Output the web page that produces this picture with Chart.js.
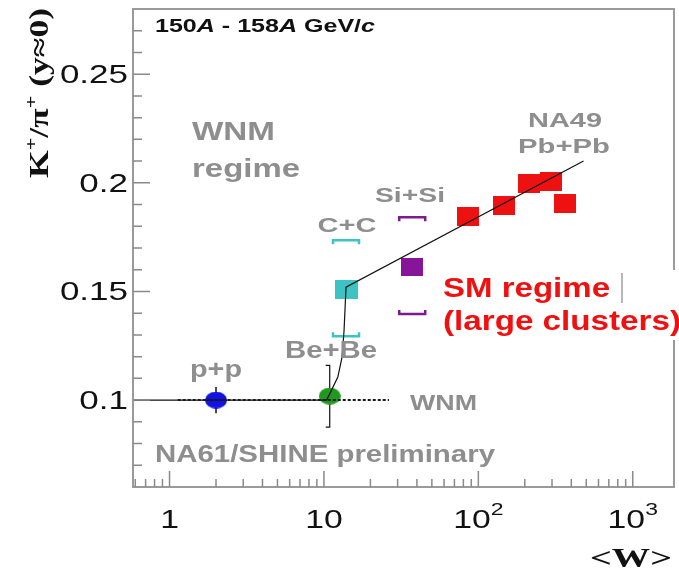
<!DOCTYPE html>
<html>
<head>
<meta charset="utf-8">
<script src="https://cdn.jsdelivr.net/npm/chart.js@4.4.0/dist/chart.umd.min.js"></script>
<style>
  html, body { margin: 0; padding: 0; background: #fff; }
  canvas { display: block; }
</style>
</head>
<body>
<canvas id="kpiChart" width="679" height="571"></canvas>
<script>
// dados (K+/pi+ vs <W>)
const ppW = [2.0];
const ppRatio = [0.100];
const ppErr = [0.006];

const beW = [10.9];
const beRatio = [0.1018];
const beErrLo = [0.0876];
const beErrHi = [0.116];

const ccW = [13.9];
const ccRatio = [0.151];
const ccSysLo = [0.1294];
const ccSysHi = [0.1736];

const siW = [37.3];
const siRatio = [0.1612];
const siSysLo = [0.1396];
const siSysHi = [0.1842];

const pbW = [86, 147, 214, 294, 362];
const pbRatio = [0.1846, 0.1897, 0.1998, 0.2007, 0.1906];

// linha do modelo (WNM -> SM)
const fitW = [0.58, 10.4, 10.96, 12.3, 13.1, 13.5, 13.9, 480];
const fitRatio = [0.1, 0.1, 0.1032, 0.1106, 0.1198, 0.132, 0.152, 0.21];

// linha pontilhada WNM
const wnmW = [1.13, 26.4];
const wnmRatio = [0.1, 0.1];

// eixos
const xTickValues = [1, 10, 100, 1000];
const xTickLabels = ['1', '10', '10^2', '10^3'];
const yTickValues = [0.1, 0.15, 0.2, 0.25];
const yTickLabels = ['0.1', '0.15', '0.2', '0.25'];
const yMinorTicks = [0.07, 0.08, 0.09, 0.11, 0.12, 0.13, 0.14, 0.16, 0.17, 0.18, 0.19, 0.21, 0.22, 0.23, 0.24, 0.26, 0.27];

const GRAY = '#8e8e8e';
const SANS = '"Liberation Sans", Arial, sans-serif';
const SERIF = '"Liberation Serif", "Times New Roman", serif';

function font(size, bold, italic, family) {
  return (italic ? 'italic ' : '') + (bold ? 'bold ' : '') + size + 'px ' + (family || SANS);
}

function pts(xs, ys) {
  return xs.map(function(x, i) { return { x: x, y: ys[i] }; });
}

// marcadores achatados (a figura original esta esticada na horizontal)
function markerCanvas(w, h, color, shape) {
  var c = document.createElement('canvas');
  c.width = w; c.height = h;
  var g = c.getContext('2d');
  g.fillStyle = color;
  if (shape === 'ellipse') {
    g.beginPath();
    g.ellipse(w / 2, h / 2, w / 2, h / 2, 0, 0, Math.PI * 2);
    g.fill();
  } else {
    g.fillRect(0, 0, w, h);
  }
  return c;
}

// texto com escala horizontal; parts = [[texto, fonte, dy], ...]
function drawText(ctx, parts, x, y, opt) {
  opt = opt || {};
  ctx.save();
  var total = 0;
  parts.forEach(function(p) {
    ctx.font = p[1];
    total += ctx.measureText(p[0]).width;
  });
  var sx = opt.width ? opt.width / total : (opt.sx || 1);
  var sy = opt.sy || 1;
  ctx.translate(x, y);
  if (opt.rotate) ctx.rotate(opt.rotate);
  var start = 0;
  if (opt.align === 'center') start = -total * sx / 2;
  if (opt.align === 'right') start = -total * sx;
  ctx.translate(start, 0);
  ctx.scale(sx, sy);
  ctx.fillStyle = opt.color || '#000';
  ctx.textBaseline = 'alphabetic';
  ctx.textAlign = 'left';
  var cur = 0;
  parts.forEach(function(p) {
    ctx.font = p[1];
    ctx.fillText(p[0], cur, p[2] || 0);
    cur += ctx.measureText(p[0]).width;
  });
  ctx.restore();
}

function label(ctx, text, x, y, size, width, align, color) {
  drawText(ctx, [[text, font(size, true)]], x, y, { width: width, align: align, color: color || GRAY });
}

function bracket(ctx, xPx, yPx, half, leg, dir, color) {
  ctx.beginPath();
  ctx.moveTo(xPx - half, yPx + dir * leg);
  ctx.lineTo(xPx - half, yPx);
  ctx.lineTo(xPx + half, yPx);
  ctx.lineTo(xPx + half, yPx + dir * leg);
  ctx.strokeStyle = color;
  ctx.lineWidth = 2.5;
  ctx.stroke();
}

// barras de erro e chaves sistematicas (atras dos marcadores)
const errorBarsPlugin = {
  id: 'errorBars',
  beforeDatasetsDraw: function(chart) {
    var ctx = chart.ctx, xs = chart.scales.x, ys = chart.scales.y;
    ctx.save();
    ctx.strokeStyle = '#111';
    ctx.lineWidth = 1.5;
    ppW.forEach(function(w, i) {
      var px = xs.getPixelForValue(w);
      ctx.beginPath();
      ctx.moveTo(px, ys.getPixelForValue(ppRatio[i] + ppErr[i]));
      ctx.lineTo(px, ys.getPixelForValue(ppRatio[i] - ppErr[i]));
      ctx.stroke();
    });
    ctx.lineWidth = 1.2;
    beW.forEach(function(w, i) {
      var px = xs.getPixelForValue(w);
      var top = ys.getPixelForValue(beErrHi[i]);
      var bot = ys.getPixelForValue(beErrLo[i]);
      ctx.beginPath();
      ctx.moveTo(px - 4, top); ctx.lineTo(px, top);
      ctx.lineTo(px, bot); ctx.lineTo(px - 4, bot);
      ctx.stroke();
    });
    ccW.forEach(function(w, i) {
      var px = xs.getPixelForValue(w);
      bracket(ctx, px, ys.getPixelForValue(ccSysHi[i]), 13, 4, 1, '#3cc3c3');
      bracket(ctx, px, ys.getPixelForValue(ccSysLo[i]), 13, 4, -1, '#3cc3c3');
    });
    siW.forEach(function(w, i) {
      var px = xs.getPixelForValue(w);
      bracket(ctx, px, ys.getPixelForValue(siSysHi[i]), 13, 4, 1, '#7d1a8c');
      bracket(ctx, px, ys.getPixelForValue(siSysLo[i]), 13, 4, -1, '#7d1a8c');
    });
    ctx.restore();
  }
};

// moldura, ticks para dentro, rotulos e textos
const framePlugin = {
  id: 'frameAndText',
  afterDatasetsDraw: function(chart) {
    var ctx = chart.ctx, a = chart.chartArea, xs = chart.scales.x, ys = chart.scales.y;
    ctx.save();
    ctx.strokeStyle = '#9a9a9a';
    ctx.lineWidth = 2;
    ctx.strokeRect(a.left, a.top, a.right - a.left, a.bottom - a.top);

    ctx.lineWidth = 1.5;
    ctx.strokeStyle = '#8a8a8a';
    ctx.beginPath();
    yTickValues.forEach(function(v) {
      var py = ys.getPixelForValue(v);
      ctx.moveTo(a.left, py); ctx.lineTo(a.left + 17, py);
    });
    yMinorTicks.forEach(function(v) {
      var py = ys.getPixelForValue(v);
      ctx.moveTo(a.left, py); ctx.lineTo(a.left + 9, py);
    });
    for (var d = 0.1; d < 2000; d *= 10) {
      for (var k = 1; k < 10; k++) {
        var v = d * k;
        if (v < xs.min || v > xs.max) continue;
        var px = xs.getPixelForValue(v);
        var len = (k === 1) ? 16 : 8;
        ctx.moveTo(px, a.bottom); ctx.lineTo(px, a.bottom - len);
      }
    }
    ctx.stroke();

    // rotulos dos eixos
    yTickValues.forEach(function(v, i) {
      drawText(ctx, [[yTickLabels[i], font(25)]], 128, ys.getPixelForValue(v) + 9, { sx: 1.4, align: 'right', color: '#111' });
    });
    xTickValues.forEach(function(v, i) {
      var parts = xTickLabels[i].split('^');
      var segs = [[parts[0], font(25)]];
      if (parts[1]) segs.push([parts[1], font(17), -13]);
      drawText(ctx, segs, xs.getPixelForValue(v), 528, { sx: 1.35, align: 'center', color: '#111' });
    });

    // titulos dos eixos
    drawText(ctx, [
      ['K', font(24, true, false, SERIF)],
      ['+', font(15, true, false, SERIF), -10],
      ['/\u03c0', font(24, true, false, SERIF)],
      ['+', font(15, true, false, SERIF), -10],
      [' (y\u22480)', font(24, true, false, SERIF)]
    ], 48, 178, { rotate: -Math.PI / 2, width: 170, sy: 1.1, color: '#111' });
    drawText(ctx, [['<W>', font(28, true, false, SERIF)]], 590, 567, { width: 82, color: '#111' });

    // cabecalho
    var b18 = font(18, true), bi18 = font(18, true, true);
    drawText(ctx, [['150', b18], ['A', bi18], [' - 158', b18], ['A', bi18], [' GeV/', b18], ['c', bi18]],
      155, 32, { width: 220, color: '#111' });

    // anotacoes
    label(ctx, 'WNM', 192, 140, 25, 83, 'left');
    label(ctx, 'regime', 192, 177, 25, 108, 'left');
    label(ctx, 'NA49', 565, 127, 20, 74, 'center');
    label(ctx, 'Pb+Pb', 564, 153, 20, 92, 'center');
    label(ctx, 'Si+Si', 410, 202, 20, 70, 'center');
    label(ctx, 'C+C', 347, 232, 20, 59, 'center');
    label(ctx, 'Be+Be', 331, 358, 24, 92, 'center');
    label(ctx, 'p+p', 216, 377, 23, 52, 'center');
    label(ctx, 'WNM', 410, 410, 22, 67, 'left');
    label(ctx, 'NA61/SHINE preliminary', 155, 462, 24, 340, 'left');

    // caixa "SM regime"
    ctx.fillStyle = '#fff';
    ctx.fillRect(437, 270, 242, 70);
    label(ctx, 'SM regime', 443, 297, 28, 167, 'left', '#f01010');
    label(ctx, '(large clusters)', 443, 330, 28, 238, 'left', '#f01010');
    ctx.fillStyle = '#b8b8b8';
    ctx.fillRect(621, 273, 2, 30);
    ctx.restore();
  }
};

var datasets = [
  {
    label: 'WNM',
    type: 'line',
    data: pts(wnmW, wnmRatio),
    borderColor: '#1a1a1a',
    borderWidth: 2,
    borderDash: [3, 2],
    pointRadius: 0,
    fill: false
  },
  {
    label: 'modelo',
    type: 'line',
    data: pts(fitW, fitRatio),
    borderColor: '#111',
    borderWidth: 1.2,
    pointRadius: 0,
    tension: 0,
    fill: false
  },
  { label: 'p+p', data: pts(ppW, ppRatio), pointStyle: markerCanvas(22, 17, '#1212e6', 'ellipse') },
  { label: 'Be+Be', data: pts(beW, beRatio), pointStyle: markerCanvas(22, 17, '#1f9a1f', 'ellipse') },
  { label: 'C+C', data: pts(ccW, ccRatio), pointStyle: markerCanvas(23, 19, '#3cc3c3', 'rect') },
  { label: 'Si+Si', data: pts(siW, siRatio), pointStyle: markerCanvas(22, 18, '#86159a', 'rect') },
  { label: 'Pb+Pb', data: pts(pbW, pbRatio), pointStyle: markerCanvas(22, 19, '#ee1111', 'rect') }
];

var chart = new Chart(document.getElementById('kpiChart'), {
  type: 'scatter',
  data: { datasets: datasets },
  options: {
    responsive: false,
    animation: false,
    layout: { padding: { top: 9, right: 4, left: 0, bottom: 0 } },
    plugins: { legend: { display: false }, tooltip: { enabled: false } },
    scales: {
      x: {
        type: 'logarithmic',
        min: 0.58,
        max: 1850,
        ticks: { display: false },
        grid: { display: false },
        border: { display: false },
        afterFit: function(scale) { scale.height = 84; }
      },
      y: {
        min: 0.06,
        max: 0.28,
        ticks: { display: false },
        grid: { display: false },
        border: { display: false },
        afterFit: function(scale) { scale.width = 133; }
      }
    }
  },
  plugins: [errorBarsPlugin, framePlugin]
});
</script>
</body>
</html>
